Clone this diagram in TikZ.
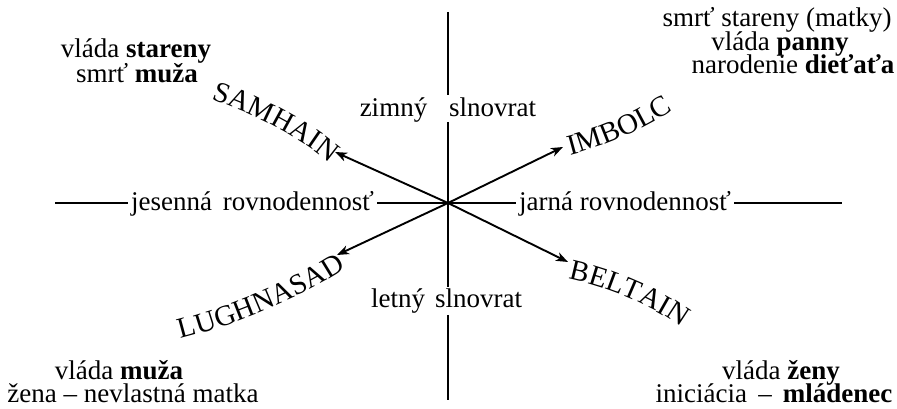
\documentclass[tikz,border=0pt]{standalone}
\usepackage{fontspec}
\setmainfont{Liberation Serif}
\usetikzlibrary{arrows.meta,decorations.text}
\begin{document}
\begin{tikzpicture}[x=1pt,y=1pt,
  txt/.style={anchor=base,inner sep=0pt,font=\fontsize{27}{30}\selectfont},
  htxt/.style={txt,inner xsep=3pt},
  axisline/.style={line width=1.3pt},
  arr/.style={line width=1.9pt,-{Stealth[length=12pt,width=9pt,inset=3.5pt]}}]
\useasboundingbox (0,0) rectangle (897,409);

% corner texts
\node[txt] (tl1) at (136,351) {vláda \textbf{stareny}};
\node[txt] (tl2) at (137,326) {smrť \textbf{muža}};
\node[txt] (tr1) at (777,382) {smrť stareny (matky)};
\node[txt] (tr2) at (780,358) {vláda \textbf{panny}};
\node[txt] (tr3) at (793,335) {narodenie \textbf{dieťaťa}};
\node[txt] (bl1) at (119,29) {vláda \textbf{muža}};
\node[txt] (bl2) at (133,6) {žena – nevlastná matka};
\node[txt] (br1) at (781,29) {vláda \textbf{ženy}};
\node[txt] (br2) at (774,6) {iniciácia \,–\, \textbf{mládenec}};

% solstice texts
\node[txt] (zim) at (393.5,292) {zimný};
\node[txt] (zsl) at (492.5,292) {slnovrat};
\node[txt] (let) at (398,101) {letný};
\node[txt] (lsl) at (478.5,101) {slnovrat};

% equinox texts
\node[htxt] (jes) at (252.5,198) {jesenná\hspace{0.4em}rovnodennosť};
\node[htxt] (jar) at (625,198) {jarná rovnodennosť};

% axes
\coordinate (c) at (448,206);
\coordinate (hl) at (55,206);
\coordinate (hr) at (842,206);
\draw[axisline] (hl) -- (jes.west |- c);
\draw[axisline] (jes.east |- c) -- (jar.west |- c);
\draw[axisline] (jar.east |- c) -- (hr);

\coordinate (vt) at (448,397);
\coordinate (g1) at (448,314);
\coordinate (g2) at (448,287);
\coordinate (g3) at (448,122);
\coordinate (g4) at (448,94);
\coordinate (vb) at (448,9);
\draw[axisline] (vt) -- (g1);
\draw[axisline] (g2) -- (g3);
\draw[axisline] (g4) -- (vb);

% arrows
\coordinate (sam) at (335,257);
\coordinate (imb) at (563,262);
\coordinate (lug) at (337,154);
\coordinate (bel) at (568,147);
\draw[arr] (c) -- (sam);
\draw[arr] (c) -- (imb);
\draw[arr] (c) -- (lug);
\draw[arr] (c) -- (bel);

% curved festival names
\path[decoration={text along path,text align=center,
      text={|\fontsize{29}{32}\selectfont|SAMHAIN}},decorate]
  (198.7,313.6) -- (213,309) .. controls (251,296.6) and (297.4,272.7) .. (328,247) -- (339.5,237.4);
\path[decoration={text along path,text align=center,
      text={|\fontsize{29}{32}\selectfont|IMBOLC}},decorate]
  (559.5,251.1) -- (574,255) .. controls (607.8,264.1) and (640.3,278.5) .. (670,297) -- (682.7,304.9);
\path[decoration={text along path,text align=center,
      text={|\fontsize{29}{32}\selectfont|LUGHNASAD}},decorate]
  (173.5,68.1) -- (188,72) .. controls (236.3,84.9) and (297.6,110.5) .. (340,137) -- (352.7,144.9);
\path[decoration={text along path,text align=center,
      text={|\fontsize{29}{32}\selectfont|BELTAIN}},decorate]
  (558.3,132.1) -- (573,129) .. controls (607.2,121.7) and (649.3,104.1) .. (678,84) -- (690.3,75.4);
\end{tikzpicture}
\end{document}
